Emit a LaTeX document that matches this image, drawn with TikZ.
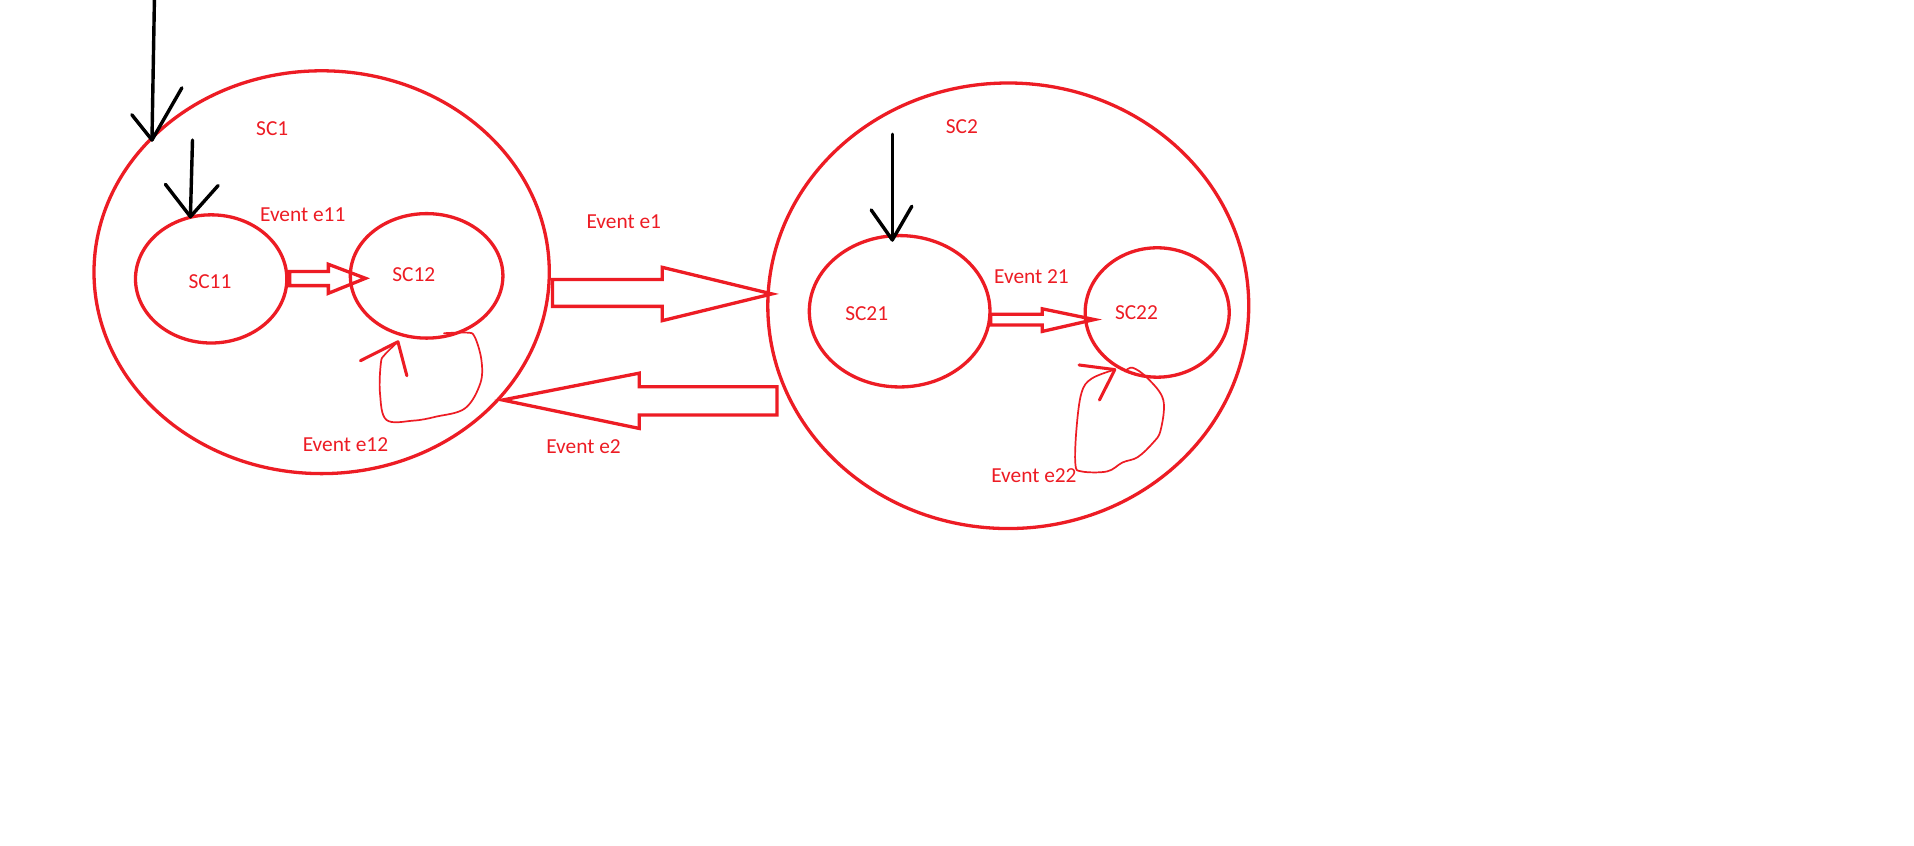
\documentclass[tikz,border=0pt]{standalone}
\usepackage{fontspec}
\setmainfont{Carlito}
\usetikzlibrary{shapes.geometric}
\definecolor{pred}{HTML}{ED1C24}
\begin{document}
\begin{tikzpicture}[x=1pt,y=-1pt,
  st/.style={draw=pred, line width=2.7pt, ellipse, inner sep=0pt},
  lbl/.style={text=pred, font=\fontsize{17.5}{20}\selectfont, inner sep=0pt},
  hollow/.style={draw=pred, line width=2.7pt, line join=miter},
  loopline/.style={draw=pred, line width=1.4pt, line join=round, line cap=round},
  loophead/.style={draw=pred, line width=2.5pt, line join=round, line cap=round},
  blk/.style={draw=black, line width=2.8pt, line cap=round, line join=round}]
\useasboundingbox[fill=white] (0,0) rectangle (1568,692.26);
% states
\node[st, minimum width=373pt, minimum height=330pt] (SC1) at (263.5,223) {};
\node[st, minimum width=124pt, minimum height=105pt] (SC11) at (173,228.5) {};
\node[st, minimum width=125pt, minimum height=102pt] (SC12) at (349.5,226) {};
\node[st, minimum width=394pt, minimum height=365pt] (SC2) at (826,250.5) {};
\node[st, minimum width=148pt, minimum height=124pt] (SC21) at (737,255) {};
\node[st, minimum width=118pt, minimum height=106pt] (SC22) at (948,256) {};
% labels
\node[lbl] (lSC1) at (223,105) {SC1};
\node[lbl] (lSC11) at (172,231) {SC11};
\node[lbl] (lSC12) at (339,225) {SC12};
\node[lbl] (le11) at (248,176) {Event e11};
\node[lbl] (le12) at (283,364) {Event e12};
\node[lbl] (le1) at (511,182) {Event e1};
\node[lbl] (le2) at (478,366) {Event e2};
\node[lbl] (lSC2) at (788,104) {SC2};
\node[lbl] (lSC21) at (710,257) {SC21};
\node[lbl] (lSC22) at (931,256) {SC22};
\node[lbl] (le21) at (845,227) {Event 21};
\node[lbl] (le22) at (847,390) {Event e22};
% initial arrows
\coordinate (t1) at (124.5,114.7);
\coordinate (t2) at (156,177.5);
\coordinate (t3) at (731,196.6);
\draw[blk] (126.5,0) -- (t1);
\draw[blk] (108,94) -- (t1) -- (149,72);
\draw[blk] (157.7,114.7) -- (t2);
\draw[blk] (135.5,151) -- (t2) -- (178.7,152);
\draw[blk] (731,110) -- (t3);
\draw[blk] (713.7,172) -- (t3) -- (747,169);
% hollow transition arrows
\draw[hollow] (237.3,222.5) -- (269,222.5) -- (269,216.5) -- (299.4,228) -- (269,240.3) -- (269,234) -- (237.3,234) -- cycle;
\draw[hollow] (452.7,229) -- (542.5,229) -- (542.5,219) -- (632.4,240.8) -- (542.5,262.7) -- (542.5,251) -- (452.7,251) -- cycle;
\draw[hollow] (636.6,316.9) -- (523.7,316.9) -- (523.7,305.7) -- (411.7,327.7) -- (523.7,351) -- (523.7,340) -- (636.6,340) -- cycle;
\draw[hollow] (811.7,257.4) -- (853.9,257.4) -- (853.9,253) -- (896.5,261.8) -- (853.9,271.5) -- (853.9,266.2) -- (811.7,266.2) -- cycle;
% self loops
\coordinate (t4) at (326,280);
\draw[loophead] (295.3,295.5) -- (t4) -- (333.3,307.8);
\draw[loopline] plot[smooth, tension=0.6] coordinates {(t4) (315,290.8) (312,297.6) (311.3,322.2) (316.6,344) (338.6,344.6) (357.4,341.3) (381,334.5) (393.5,314) (394.4,295) (388.8,275.8) (382.5,272.5) (363.7,273)};
\coordinate (t5) at (913.3,302.8);
\draw[loophead] (884,299) -- (t5) -- (900.7,327.7);
\draw[loopline] plot[smooth, tension=0.6] coordinates {(t5) (894.4,310.1) (886,321.8) (881.9,351) (881,380.3) (886,386.2) (907,386.2) (919.5,378.9) (932,374.5) (944.5,362.8) (950.8,352.5) (953,327.7) (940.4,310.1) (928,301.3) (921.6,304.3)};
\end{tikzpicture}
\end{document}
